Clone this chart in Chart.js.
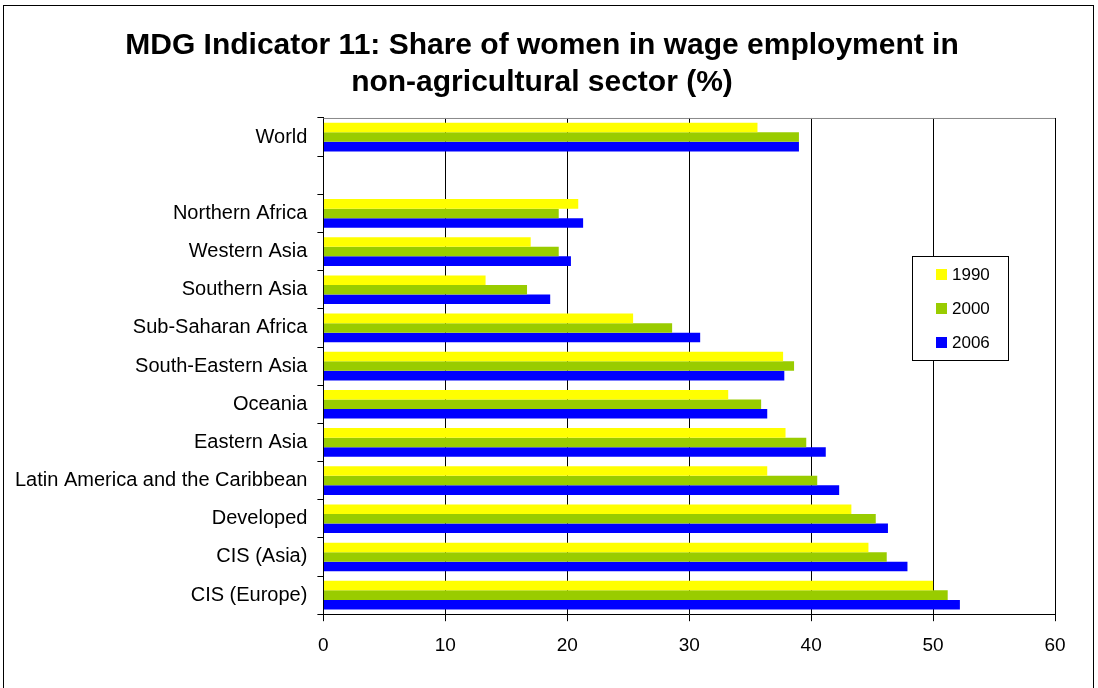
<!DOCTYPE html>
<html lang="en">
<head>
    <meta charset="UTF-8">
    <title>MDG Indicator 11</title>
    <script src="https://cdn.jsdelivr.net/npm/chart.js"></script>
    <style>
        body {
            margin: 0;
            background: #fff;
        }
        canvas {
            display: block;
        }
    </style>
</head>
<body>
    <canvas id="womenChart" width="1098" height="688"></canvas>

    <script>
        // Values (%)
        const regions = ['World', '', 'Northern Africa', 'Western Asia', 'Southern Asia',
            'Sub-Saharan Africa', 'South-Eastern Asia', 'Oceania', 'Eastern Asia',
            'Latin America and the Caribbean', 'Developed', 'CIS (Asia)', 'CIS (Europe)'];
        const years = ['1990', '2000', '2006'];
        const share1990 = [35.6, null, 20.9, 17.0, 13.3, 25.4, 37.7, 33.2, 37.9, 36.4, 43.3, 44.7, 50.0];
        const share2000 = [39.0, null, 19.3, 19.3, 16.7, 28.6, 38.6, 35.9, 39.6, 40.5, 45.3, 46.2, 51.2];
        const share2006 = [39.0, null, 21.3, 20.3, 18.6, 30.9, 37.8, 36.4, 41.2, 42.3, 46.3, 47.9, 52.2];
        const xTicks = [0, 10, 20, 30, 40, 50, 60];

        const colors = ['#FFFF00', '#99CC00', '#0000FF'];
        const font = "'Liberation Sans', Arial, sans-serif";

        // frame, plot top border and the boxed legend inside the plot
        const extras = {
            id: 'extras',
            afterLayout(chart) {
                // the original title sits a little right of the padded centre
                if (chart.titleBlock) {
                    chart.titleBlock.left += 12;
                    chart.titleBlock.right += 12;
                }
            },
            afterDraw(chart) {
                const ctx = chart.ctx;
                const area = chart.chartArea;
                ctx.save();
                ctx.strokeStyle = '#000';
                ctx.lineWidth = 1;
                ctx.strokeRect(3.5, 5.5, 1090, 700);

                ctx.strokeStyle = '#888';
                ctx.beginPath();
                ctx.moveTo(area.left, area.top + 0.5);
                ctx.lineTo(area.right, area.top + 0.5);
                ctx.stroke();

                // legend
                const lx = 912, ly = 256, lw = 96, lh = 104;
                ctx.fillStyle = '#fff';
                ctx.fillRect(lx, ly, lw, lh);
                ctx.strokeStyle = '#000';
                ctx.strokeRect(lx + 0.5, ly + 0.5, lw, lh);
                ctx.font = '17px ' + font;
                ctx.textBaseline = 'middle';
                chart.data.datasets.forEach((ds, i) => {
                    const cy = 274 + i * 34;
                    ctx.fillStyle = ds.backgroundColor;
                    ctx.fillRect(936, cy - 5, 11, 11);
                    ctx.fillStyle = '#000';
                    ctx.fillText(ds.label, 952, cy + 1);
                });
                ctx.restore();
            }
        };

        const ctx = document.getElementById('womenChart').getContext('2d');
        new Chart(ctx, {
            type: 'bar',
            data: {
                labels: regions,
                datasets: [
                    { label: years[0], data: share1990, backgroundColor: colors[0] },
                    { label: years[1], data: share2000, backgroundColor: colors[1] },
                    { label: years[2], data: share2006, backgroundColor: colors[2] }
                ]
            },
            options: {
                indexAxis: 'y',
                responsive: false,
                animation: false,
                devicePixelRatio: 1,
                datasets: {
                    bar: {
                        categoryPercentage: 0.75,
                        barPercentage: 1.0,
                        borderWidth: 0
                    }
                },
                layout: {
                    padding: { left: 5, right: 43, top: 0, bottom: 18 }
                },
                plugins: {
                    legend: { display: false },
                    tooltip: { enabled: false },
                    title: {
                        display: true,
                        text: ['MDG Indicator 11: Share of women in wage employment in',
                               'non-agricultural sector (%)'],
                        color: '#000',
                        font: { family: font, size: 30, weight: 'bold', lineHeight: 1.233 },
                        padding: { top: 27, bottom: 17 }
                    }
                },
                scales: {
                    x: {
                        min: xTicks[0],
                        max: xTicks[xTicks.length - 1],
                        afterBuildTicks: axis => {
                            axis.ticks = xTicks.map(v => ({ value: v }));
                        },
                        ticks: {
                            color: '#000',
                            font: { family: font, size: 19 },
                            padding: 13
                        },
                        grid: {
                            color: '#000',
                            lineWidth: 1,
                            tickLength: 7
                        },
                        border: { color: '#000', width: 1 }
                    },
                    y: {
                        ticks: {
                            color: '#000',
                            font: { family: font, size: 20 },
                            padding: 10
                        },
                        grid: {
                            offset: true,
                            drawOnChartArea: false,
                            color: '#000',
                            tickLength: 6
                        },
                        border: { color: '#000', width: 1 }
                    }
                }
            },
            plugins: [extras]
        });
    </script>
</body>
</html>
